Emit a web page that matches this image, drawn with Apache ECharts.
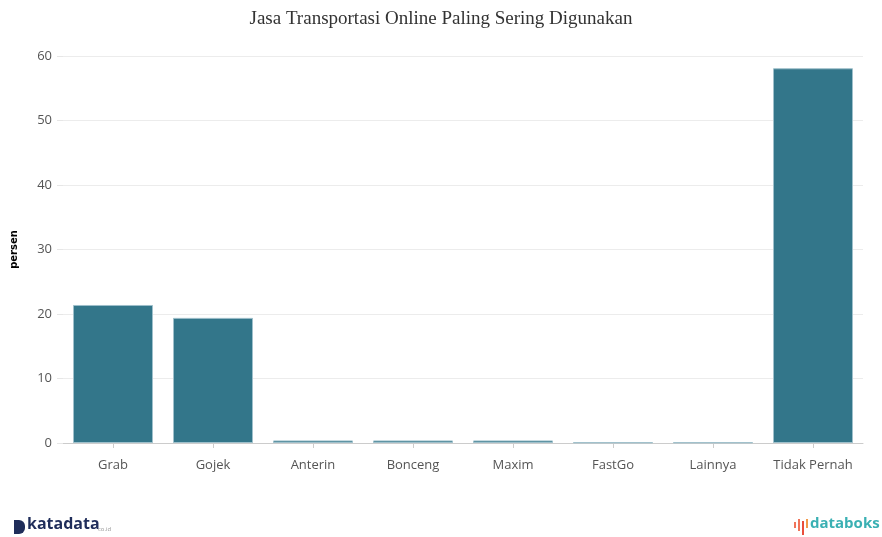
<!DOCTYPE html>
<html>
<head>
<meta charset="utf-8">
<script src="https://cdn.jsdelivr.net/npm/echarts@6/dist/echarts.min.js"></script>
<style>
  html, body { margin: 0; padding: 0; background: #fff; }
  #chart { width: 882px; height: 537px; }
</style>
</head>
<body>
<div id="chart"></div>
<script>
var categories = ['Grab', 'Gojek', 'Anterin', 'Bonceng', 'Maxim', 'FastGo', 'Lainnya', 'Tidak Pernah'];
var persen = [21.4, 19.4, 0.4, 0.4, 0.4, 0.1, 0.1, 58.1];
var yTicks = { min: 0, max: 60, interval: 10 };

var chart = echarts.init(document.getElementById('chart'));
chart.setOption({
  animation: false,
  title: {
    text: 'Jasa Transportasi Online Paling Sering Digunakan',
    left: 'center',
    top: 5,
    textStyle: { fontFamily: 'Liberation Serif', fontWeight: 'normal', fontSize: 19, color: '#333' }
  },
  grid: { left: 63, right: 19, top: 56, bottom: 94 },
  xAxis: {
    type: 'category',
    data: categories,
    axisLine: { lineStyle: { color: '#ccc' } },
    axisTick: { show: true, alignWithLabel: true, length: 5, lineStyle: { color: '#ccc' } },
    axisLabel: { interval: 0, color: '#555', fontSize: 13, fontFamily: 'Open Sans', margin: 16 }
  },
  yAxis: {
    type: 'value',
    min: yTicks.min,
    max: yTicks.max,
    interval: yTicks.interval,
    name: 'persen',
    nameLocation: 'middle',
    nameGap: 44,
    nameTextStyle: { fontSize: 10, fontWeight: 'bold', color: '#000', fontFamily: 'DejaVu Sans' },
    axisLine: { show: false },
    axisTick: { show: true, length: 6, lineStyle: { color: '#e6e6e6' } },
    splitLine: { lineStyle: { color: '#ececec' } },
    axisLabel: { color: '#555', fontSize: 13, fontFamily: 'Open Sans', margin: 11 }
  },
  series: [{
    type: 'bar',
    data: persen,
    barCategoryGap: '20%',
    itemStyle: { color: '#33768a', borderColor: '#9fc0cb', borderWidth: 1 }
  }],
  graphic: [
    { type: 'rect', left: 14, top: 520, shape: { width: 11, height: 14, r: [0, 6, 6, 0] }, style: { fill: '#1f2d5a' } },
    { type: 'text', left: 27, top: 516, style: { text: 'katadata', fontSize: 16, fontWeight: 'bold', fontFamily: 'Open Sans', fill: '#1f2d5a' } },
    { type: 'text', left: 98, top: 526, style: { text: 'co.id', fontSize: 6, fontFamily: 'Open Sans', fill: '#999' } },
    { type: 'rect', left: 794, top: 522, shape: { width: 2, height: 6 }, style: { fill: '#f0745a' } },
    { type: 'rect', left: 798, top: 519, shape: { width: 2, height: 12 }, style: { fill: '#f0745a' } },
    { type: 'rect', left: 802, top: 521, shape: { width: 2, height: 14 }, style: { fill: '#e94e3c' } },
    { type: 'rect', left: 806, top: 519, shape: { width: 2, height: 9 }, style: { fill: '#f29a4a' } },
    { type: 'text', left: 810, top: 516, style: { text: 'databoks', fontSize: 15, fontWeight: 'bold', fontFamily: 'Open Sans', fill: '#3ab0b3' } }
  ]
});
</script>
</body>
</html>
